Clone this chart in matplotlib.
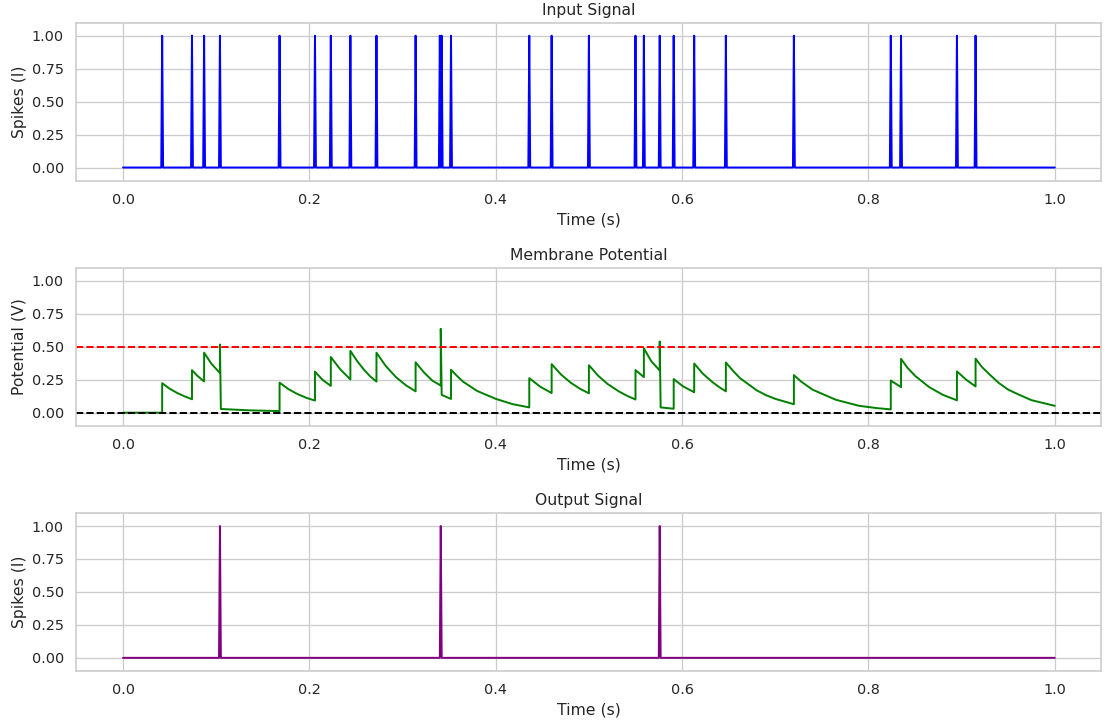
import numpy as np
import matplotlib
matplotlib.use("Agg")
import matplotlib.pyplot as plt
import seaborn as sns

# spike times
input_spikes = [0.042, 0.074, 0.087, 0.104, 0.168, 0.206, 0.223, 0.244, 0.272,
                0.314, 0.340, 0.342, 0.352, 0.436, 0.460, 0.500, 0.550, 0.559,
                0.576, 0.591, 0.613, 0.647, 0.720, 0.824, 0.835, 0.895, 0.915]
output_spikes = [0.104, 0.341, 0.576]

# membrane potential trace
mem_t = [0.000, 0.042,
         0.042, 0.050, 0.058, 0.066, 0.074,
         0.074, 0.080, 0.087,
         0.087, 0.095, 0.104,
         0.104, 0.105, 0.135, 0.168,
         0.168, 0.177, 0.187, 0.197, 0.206,
         0.206, 0.214, 0.223,
         0.223, 0.233, 0.244,
         0.244, 0.251, 0.258, 0.265, 0.272,
         0.272, 0.282, 0.293, 0.304, 0.314,
         0.314, 0.323, 0.332, 0.341,
         0.341, 0.342, 0.352,
         0.352, 0.358, 0.365, 0.380, 0.400, 0.418, 0.436,
         0.436, 0.448, 0.460,
         0.460, 0.470, 0.480, 0.490, 0.500,
         0.500, 0.510, 0.520, 0.532, 0.541, 0.550,
         0.550, 0.559,
         0.559, 0.567, 0.576,
         0.576, 0.577, 0.591,
         0.591, 0.601, 0.613,
         0.613, 0.622, 0.632, 0.640, 0.647,
         0.647, 0.655, 0.662, 0.680, 0.690, 0.700, 0.720,
         0.720, 0.728, 0.740, 0.765, 0.790, 0.810, 0.824,
         0.824, 0.835,
         0.835, 0.842, 0.850, 0.865, 0.880, 0.895,
         0.895, 0.905, 0.915,
         0.915, 0.922, 0.930, 0.940, 0.950, 0.962, 0.975, 1.000]
mem_v = [0.000, 0.000,
         0.224, 0.182, 0.150, 0.124, 0.102,
         0.323, 0.278, 0.237,
         0.455, 0.370, 0.301,
         0.517, 0.028, 0.018, 0.012,
         0.228, 0.181, 0.142, 0.112, 0.092,
         0.312, 0.250, 0.203,
         0.422, 0.330, 0.252,
         0.469, 0.394, 0.331, 0.277, 0.236,
         0.455, 0.354, 0.269, 0.206, 0.162,
         0.382, 0.305, 0.243, 0.206,
         0.636, 0.135, 0.104,
         0.326, 0.282, 0.235, 0.165, 0.105, 0.065, 0.040,
         0.262, 0.196, 0.149,
         0.368, 0.290, 0.230, 0.183, 0.147,
         0.360, 0.280, 0.218, 0.162, 0.128, 0.100,
         0.323, 0.270,
         0.488, 0.390, 0.320,
         0.540, 0.040, 0.030,
         0.255, 0.200, 0.155,
         0.373, 0.298, 0.235, 0.193, 0.162,
         0.381, 0.315, 0.263, 0.170, 0.133, 0.105, 0.064,
         0.285, 0.235, 0.175, 0.098, 0.052, 0.034, 0.025,
         0.244, 0.194,
         0.408, 0.340, 0.280, 0.195, 0.135, 0.094,
         0.313, 0.250, 0.199,
         0.410, 0.345, 0.290, 0.225, 0.175, 0.135, 0.095, 0.052]

threshold = 0.5
rest = 0.0

sns.set_theme(style="whitegrid")

# spike trains on a 1 ms grid
t = np.linspace(0, 1, 1001)
spk_in = np.zeros_like(t)
spk_in[np.round(np.array(input_spikes) * 1000).astype(int)] = 1
spk_out = np.zeros_like(t)
spk_out[np.round(np.array(output_spikes) * 1000).astype(int)] = 1

dpi = 94
fig, axes = plt.subplots(3, 1, figsize=(1108 / dpi, 727 / dpi), dpi=dpi)
fig.subplots_adjust(left=0.069, right=0.994, top=0.969, bottom=0.077, hspace=0.55)

ax = axes[0]
ax.plot(t, spk_in, color="blue")
ax.set_ylim(-0.1, 1.1)
ax.set_title("Input Signal")
ax.set_xlabel("Time (s)")
ax.set_ylabel("Spikes (I)")

ax = axes[1]
ax.plot(mem_t, mem_v, color="green")
ax.axhline(threshold, color="red", linestyle="--")
ax.axhline(rest, color="black", linestyle="--")
ax.set_ylim(-0.1, 1.1)
ax.set_title("Membrane Potential")
ax.set_xlabel("Time (s)")
ax.set_ylabel("Potential (V)")

ax = axes[2]
ax.plot(t, spk_out, color="purple")
ax.set_ylim(-0.1, 1.1)
ax.set_title("Output Signal")
ax.set_xlabel("Time (s)")
ax.set_ylabel("Spikes (I)")

fig.savefig("out.png", dpi=dpi)
